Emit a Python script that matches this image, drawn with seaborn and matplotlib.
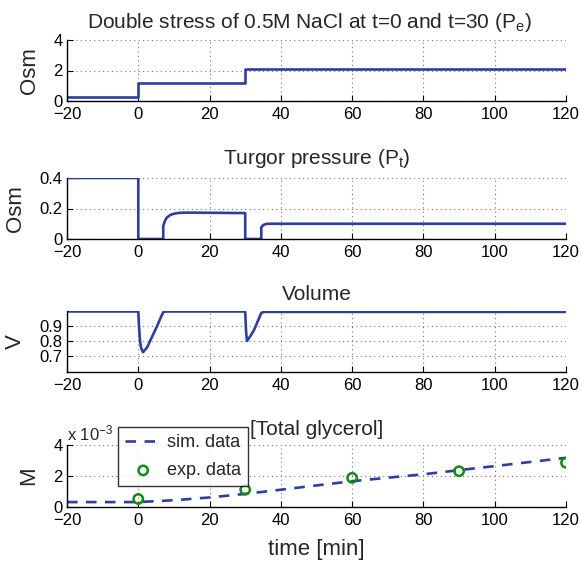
import numpy as np
import pandas as pd
import matplotlib
matplotlib.use("Agg")
import matplotlib.pyplot as plt
import seaborn as sns
from matplotlib.ticker import FuncFormatter

# ---------------- data ----------------
pe_t = [-20, 0, 0, 30, 30, 120]
pe_v = [0.24, 0.24, 1.18, 1.18, 2.08, 2.08]

pt_t = [-20, 0, 0, 7, 7, 7.5, 8, 9, 10, 11, 12, 14, 30, 30, 34.5, 34.5, 35, 35.5, 36, 37, 38, 120]
pt_v = [0.4, 0.4, 0, 0, 0.085, 0.12, 0.14, 0.158, 0.166, 0.17, 0.172, 0.173, 0.17, 0, 0, 0.076,
        0.09, 0.096, 0.099, 0.1, 0.1, 0.1]

vol_t = [-20, 0, 0.2, 0.5, 0.8, 1.35, 2.5, 3.6, 4.5, 5.4, 6.3, 7.0, 7.5,
         30, 30.1, 30.25, 30.5, 31.5, 32.5, 33.5, 34.5, 35.2, 120]
vol_v = [0.995, 0.995, 0.90, 0.80, 0.755, 0.728, 0.76, 0.816, 0.86, 0.906, 0.955, 0.99, 0.995,
         0.995, 0.94, 0.86, 0.802, 0.835, 0.875, 0.93, 0.985, 0.992, 0.992]

gly_t = [-20, 0, 10, 20, 30, 40, 50, 60, 70, 80, 90, 100, 110, 120]
gly_sim = [0.30e-3, 0.30e-3, 0.42e-3, 0.60e-3, 0.83e-3, 1.10e-3, 1.38e-3, 1.65e-3, 1.88e-3,
           2.10e-3, 2.37e-3, 2.63e-3, 2.90e-3, 3.17e-3]
exp_t = [0, 30, 60, 90, 120]
exp_v = [0.50e-3, 1.10e-3, 1.87e-3, 2.30e-3, 2.85e-3]

xticks = [-20, 0, 20, 40, 60, 80, 100, 120]
titles = ["Double stress of 0.5M NaCl at t=0 and t=30 (P$_{\\mathrm{e}}$)",
          "Turgor pressure (P$_{\\mathrm{t}}$)", "Volume", "[Total glycerol]"]
ylabels = ["Osm", "Osm", "V", "M"]

# ---------------- style ----------------
sns.set_style("ticks")
plt.rcParams["font.family"] = ["Liberation Sans", "DejaVu Sans"]
plt.rcParams["mathtext.fontset"] = "custom"
plt.rcParams["mathtext.rm"] = "Liberation Sans"
plt.rcParams["mathtext.it"] = "Liberation Sans:italic"
plt.rcParams["axes.unicode_minus"] = True

BLUE = "#2c3f9e"
GREEN = "#138a13"
LW = 1.9

fig = plt.figure(figsize=(5.81, 5.64), dpi=100)
W, H = 581, 564
left, right = 67, 566
tops = [40, 178, 310.7, 445]
bots = [101, 239, 371.7, 506.7]
axes = []
for tp, bt in zip(tops, bots):
    ax = fig.add_axes([left / W, 1 - bt / H, (right - left) / W, (bt - tp) / H])
    axes.append(ax)

def style(ax, yticks, ylim, title, ylabel, pad, tx=0.5):
    ax.set_xlim(-20, 120)
    ax.set_ylim(*ylim)
    ax.set_xticks(xticks)
    ax.set_yticks(yticks)
    ax.grid(True, linestyle=(0, (1, 3)), color="#777777", linewidth=0.8)
    ax.set_axisbelow(True)
    for s in ["top", "right"]:
        ax.spines[s].set_visible(False)
    for s in ["left", "bottom"]:
        ax.spines[s].set_color("black")
        ax.spines[s].set_linewidth(1.0)
    ax.tick_params(direction="in", length=4, width=0.8, labelsize=12, colors="black", pad=3)
    ax.tick_params(axis="x", pad=4.5)
    ax.set_title(title, fontsize=15, pad=pad, y=1.0, x=tx)
    ax.set_ylabel(ylabel, fontsize=16, labelpad=10)
    ax.set_xlabel("")

# panel 1
df1 = pd.DataFrame({"t": pe_t, "v": pe_v})
sns.lineplot(data=df1, x="t", y="v", ax=axes[0], estimator=None, sort=False, color=BLUE, linewidth=LW)
style(axes[0], [0, 2, 4], (0, 4), titles[0], ylabels[0], 8.5, tx=0.486)

# panel 2
df2 = pd.DataFrame({"t": pt_t, "v": pt_v})
sns.lineplot(data=df2, x="t", y="v", ax=axes[1], estimator=None, sort=False, color=BLUE, linewidth=LW)
style(axes[1], [0, 0.2, 0.4], (0, 0.4), titles[1], ylabels[1], 10)
axes[1].set_yticklabels(["0", "0.2", "0.4"])

# panel 3
df3 = pd.DataFrame({"t": vol_t, "v": vol_v})
sns.lineplot(data=df3, x="t", y="v", ax=axes[2], estimator=None, sort=False, color=BLUE, linewidth=LW)
style(axes[2], [0.7, 0.8, 0.9], (0.6, 1.0), titles[2], ylabels[2], 7.5)

# panel 4
df4 = pd.DataFrame({"t": gly_t, "v": gly_sim})
df5 = pd.DataFrame({"t": exp_t, "v": exp_v})
ax4 = axes[3]
sns.lineplot(data=df4, x="t", y="v", ax=ax4, estimator=None, sort=False, color=BLUE,
             linewidth=LW, linestyle=(0, (4, 3.2)), label="sim. data")
sns.scatterplot(data=df5, x="t", y="v", ax=ax4, marker="o", s=45, facecolors="none",
                edgecolor=GREEN, linewidth=1.8, label="exp. data", zorder=5)
style(ax4, [0, 2e-3, 4e-3], (0, 4e-3), titles[3], ylabels[3], 7.5)
ax4.yaxis.set_major_formatter(FuncFormatter(lambda v, p: f"{v*1e3:g}"))
ax4.text(0.0, 1.02, "x 10$^{-3}$", transform=ax4.transAxes, fontsize=12, ha="left", va="bottom")
ax4.set_xlabel("time [min]", fontsize=16, labelpad=8)
leg = ax4.legend(loc="upper left", bbox_to_anchor=(0.102, 1.29), borderaxespad=0,
                 fontsize=13, frameon=True, fancybox=False, edgecolor="black",
                 handlelength=2.0, handletextpad=0.3, borderpad=0.4, labelspacing=0.6)
leg.get_frame().set_linewidth(1.0)
leg.set_zorder(10)

fig.savefig("out.png", dpi=100)
